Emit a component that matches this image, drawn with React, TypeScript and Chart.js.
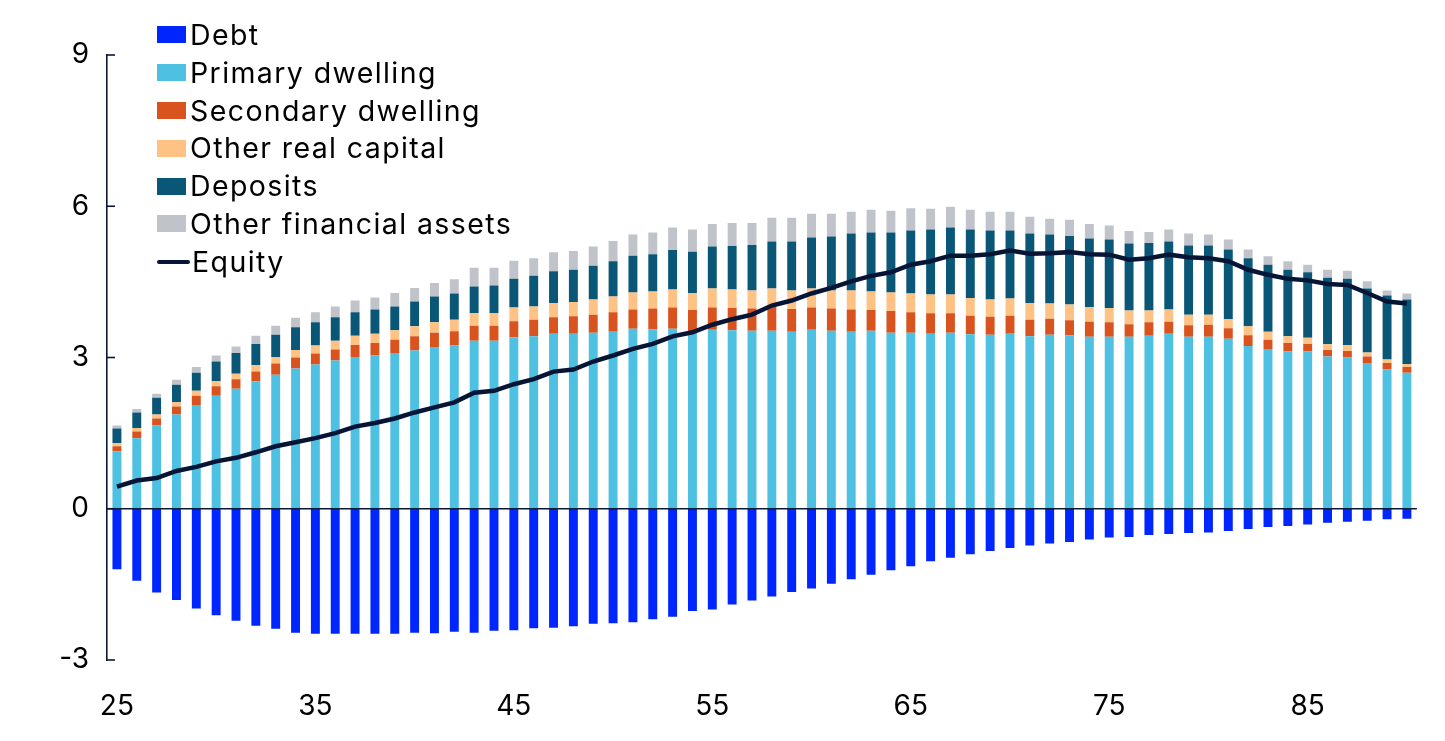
import React, { useEffect, useRef } from "react";
import { Chart, registerables } from "chart.js";

Chart.register(...registerables);

// age groups on the x axis
const ages = [
  25, 26, 27, 28, 29, 30, 31, 32, 33, 34, 35, 36, 37, 38, 39, 40, 41, 42, 43, 44, 45, 46,
  47, 48, 49, 50, 51, 52, 53, 54, 55, 56, 57, 58, 59, 60, 61, 62, 63, 64, 65, 66, 67, 68,
  69, 70, 71, 72, 73, 74, 75, 76, 77, 78, 79, 80, 81, 82, 83, 84, 85, 86, 87, 88, 89, 90,
];
const xTickLabels = ["25", "35", "45", "55", "65", "75", "85"];

const debt = [
  -1.2, -1.43, -1.66, -1.81, -1.98, -2.11, -2.22, -2.32, -2.38, -2.46, -2.48, -2.48, -2.48,
  -2.48, -2.48, -2.46, -2.47, -2.44, -2.46, -2.42, -2.41, -2.37, -2.36, -2.33, -2.28, -2.27,
  -2.25, -2.19, -2.14, -2.03, -2.0, -1.9, -1.82, -1.74, -1.65, -1.58, -1.49, -1.4, -1.31,
  -1.22, -1.14, -1.04, -0.97, -0.9, -0.84, -0.78, -0.73, -0.69, -0.66, -0.61, -0.57, -0.56,
  -0.52, -0.5, -0.48, -0.47, -0.44, -0.4, -0.36, -0.34, -0.31, -0.28, -0.26, -0.24, -0.21,
  -0.2,
];
const primaryDwelling = [
  1.14, 1.4, 1.65, 1.87, 2.06, 2.24, 2.38, 2.53, 2.66, 2.78, 2.86, 2.94, 3.01, 3.04, 3.09,
  3.14, 3.21, 3.24, 3.33, 3.33, 3.4, 3.42, 3.47, 3.47, 3.49, 3.51, 3.57, 3.56, 3.57, 3.49,
  3.55, 3.54, 3.53, 3.53, 3.51, 3.55, 3.53, 3.51, 3.53, 3.49, 3.49, 3.47, 3.49, 3.46, 3.45,
  3.47, 3.42, 3.45, 3.44, 3.41, 3.41, 3.41, 3.43, 3.47, 3.41, 3.41, 3.37, 3.23, 3.17, 3.12,
  3.12, 3.02, 3.0, 2.89, 2.76, 2.7,
];
const secondaryDwelling = [
  0.1, 0.13, 0.14, 0.16, 0.18, 0.19, 0.19, 0.19, 0.22, 0.22, 0.22, 0.22, 0.24, 0.25, 0.26,
  0.28, 0.28, 0.28, 0.3, 0.3, 0.32, 0.33, 0.33, 0.35, 0.36, 0.39, 0.38, 0.41, 0.42, 0.45,
  0.44, 0.44, 0.44, 0.48, 0.45, 0.44, 0.44, 0.44, 0.41, 0.43, 0.41, 0.41, 0.39, 0.37, 0.36,
  0.36, 0.33, 0.32, 0.3, 0.3, 0.29, 0.25, 0.27, 0.24, 0.23, 0.24, 0.21, 0.21, 0.18, 0.17,
  0.15, 0.13, 0.13, 0.13, 0.13, 0.11,
];
const otherRealCapital = [
  0.06, 0.07, 0.08, 0.08, 0.1, 0.1, 0.11, 0.13, 0.13, 0.15, 0.16, 0.17, 0.18, 0.18, 0.19,
  0.2, 0.21, 0.23, 0.25, 0.25, 0.27, 0.26, 0.28, 0.28, 0.3, 0.31, 0.34, 0.34, 0.36, 0.34,
  0.38, 0.37, 0.36, 0.36, 0.37, 0.38, 0.36, 0.38, 0.37, 0.37, 0.37, 0.37, 0.37, 0.35, 0.34,
  0.34, 0.33, 0.3, 0.31, 0.29, 0.28, 0.27, 0.23, 0.24, 0.21, 0.2, 0.18, 0.18, 0.16, 0.13,
  0.12, 0.12, 0.12, 0.08, 0.07, 0.06,
];
const deposits = [
  0.29, 0.31, 0.33, 0.35, 0.36, 0.39, 0.41, 0.42, 0.44, 0.45, 0.46, 0.47, 0.47, 0.48, 0.47,
  0.49, 0.51, 0.52, 0.53, 0.55, 0.57, 0.61, 0.63, 0.64, 0.67, 0.7, 0.73, 0.74, 0.78, 0.82,
  0.83, 0.86, 0.9, 0.93, 0.97, 1.01, 1.07, 1.13, 1.17, 1.19, 1.25, 1.29, 1.33, 1.36, 1.37,
  1.35, 1.38, 1.37, 1.36, 1.36, 1.36, 1.33, 1.34, 1.35, 1.37, 1.37, 1.38, 1.35, 1.33, 1.32,
  1.3, 1.31, 1.31, 1.27, 1.27, 1.28,
];
const otherFinancialAssets = [
  0.06, 0.07, 0.08, 0.1, 0.11, 0.12, 0.13, 0.16, 0.18, 0.19, 0.2, 0.21, 0.23, 0.24, 0.27,
  0.27, 0.27, 0.28, 0.37, 0.35, 0.36, 0.35, 0.38, 0.37, 0.38, 0.4, 0.42, 0.43, 0.45, 0.44,
  0.45, 0.46, 0.44, 0.47, 0.47, 0.47, 0.45, 0.43, 0.45, 0.43, 0.44, 0.41, 0.41, 0.39, 0.37,
  0.37, 0.33, 0.31, 0.32, 0.29, 0.28, 0.25, 0.22, 0.24, 0.24, 0.22, 0.2, 0.17, 0.17, 0.17,
  0.15, 0.16, 0.16, 0.14, 0.1, 0.12,
];
const equity = [
  0.44, 0.56, 0.61, 0.75, 0.83, 0.94, 1.01, 1.12, 1.24, 1.32, 1.4, 1.5, 1.63, 1.7, 1.79,
  1.91, 2.01, 2.11, 2.3, 2.34, 2.47, 2.57, 2.72, 2.76, 2.92, 3.04, 3.17, 3.27, 3.42, 3.5,
  3.65, 3.76, 3.85, 4.03, 4.13, 4.27, 4.38, 4.51, 4.62, 4.69, 4.84, 4.91, 5.02, 5.02, 5.05,
  5.12, 5.06, 5.07, 5.09, 5.05, 5.04, 4.94, 4.97, 5.04, 4.99, 4.97, 4.91, 4.74, 4.64, 4.56,
  4.53, 4.46, 4.44, 4.28, 4.11, 4.07,
];

const INK = "#0b1833";
const FONT = "Inter, 'Noto Sans', sans-serif";

const legendItems = [
  { label: "Debt", color: "#0026ff", line: false },
  { label: "Primary dwelling", color: "#4ec1e3", line: false },
  { label: "Secondary dwelling", color: "#d9531e", line: false },
  { label: "Other real capital", color: "#ffc285", line: false },
  { label: "Deposits", color: "#0a5676", line: false },
  { label: "Other financial assets", color: "#c0c3ca", line: false },
  { label: "Equity", color: "#061536", line: true },
];

// zero line + inward tick marks on the y axis
const axisMarks = {
  id: "axisMarks",
  afterDatasetsDraw(chart: any) {
    const { ctx, chartArea, scales } = chart;
    const y = scales.y;
    ctx.save();
    ctx.strokeStyle = INK;
    ctx.lineWidth = 1.6;
    const y0 = y.getPixelForValue(0);
    ctx.beginPath();
    ctx.moveTo(chartArea.left, y0);
    ctx.lineTo(chartArea.right, y0);
    ctx.stroke();
    y.ticks.forEach((t: any) => {
      const py = y.getPixelForValue(t.value);
      ctx.beginPath();
      ctx.moveTo(chartArea.left, py);
      ctx.lineTo(chartArea.left + 8, py);
      ctx.stroke();
    });
    ctx.restore();
  },
};

const App = () => {
  const chartRef = useRef<HTMLCanvasElement | null>(null);
  const chartInstanceRef = useRef<Chart | null>(null);

  useEffect(() => {
    const ctx = chartRef.current?.getContext("2d");
    if (!ctx) return;
    if (chartInstanceRef.current) chartInstanceRef.current.destroy();

    const bar = (label: string, data: number[], color: string) => ({
      type: "bar" as const,
      label,
      data,
      backgroundColor: color,
      borderWidth: 0,
      stack: "assets",
      order: 1,
      barPercentage: 0.45,
      categoryPercentage: 1,
    });

    chartInstanceRef.current = new Chart(ctx, {
      type: "bar",
      data: {
        labels: ages.map(String),
        datasets: [
          bar("Debt", debt, legendItems[0].color),
          bar("Primary dwelling", primaryDwelling, legendItems[1].color),
          bar("Secondary dwelling", secondaryDwelling, legendItems[2].color),
          bar("Other real capital", otherRealCapital, legendItems[3].color),
          bar("Deposits", deposits, legendItems[4].color),
          bar("Other financial assets", otherFinancialAssets, legendItems[5].color),
          {
            type: "line" as const,
            label: "Equity",
            data: equity,
            borderColor: legendItems[6].color,
            borderWidth: 4.5,
            pointRadius: 0,
            tension: 0,
            stack: "equity",
            order: 0,
          } as any,
        ],
      },
      options: {
        animation: false,
        responsive: true,
        maintainAspectRatio: false,
        layout: { padding: { top: 47, right: 12, left: 0, bottom: 0 } },
        plugins: {
          legend: { display: false },
          tooltip: { enabled: false },
        },
        scales: {
          x: {
            stacked: true,
            grid: { display: false, drawTicks: false },
            border: { display: false },
            afterFit: (scale: any) => {
              scale.height = 73;
            },
            ticks: {
              autoSkip: false,
              maxRotation: 0,
              padding: 30,
              color: "#000",
              font: { family: FONT, size: 28 },
              callback: (_v: any, i: number) =>
                xTickLabels.includes(String(ages[i])) ? String(ages[i]) : "",
            },
          },
          y: {
            stacked: true,
            min: -3,
            max: 9,
            afterFit: (scale: any) => {
              scale.width = 99;
            },
            grid: { display: false, drawTicks: false },
            border: { display: true, color: INK, width: 1.6 },
            ticks: {
              stepSize: 3,
              padding: 18,
              color: "#000",
              font: { family: FONT, size: 28 },
            },
          },
        },
      },
      plugins: [axisMarks],
    });

    return () => {
      if (chartInstanceRef.current) {
        chartInstanceRef.current.destroy();
        chartInstanceRef.current = null;
      }
    };
  }, []);

  return (
    <div style={{ position: "relative", width: 1429, height: 725 }}>
      <canvas ref={chartRef}></canvas>
      <div
        style={{
          position: "absolute",
          left: 149,
          top: 8,
          fontFamily: FONT,
          fontSize: 28.5,
          letterSpacing: "1.4px",
          color: "#000",
          lineHeight: "37.8px",
        }}
      >
        {legendItems.map((item) => (
          <div key={item.label} style={{ display: "flex", alignItems: "center", whiteSpace: "nowrap" }}>
            {item.line ? (
              <span
                style={{ display: "inline-block", width: 33, height: 4, background: item.color, marginRight: 2, borderRadius: 2 }}
              ></span>
            ) : (
              <span
                style={{ display: "inline-block", width: 29, height: 17, background: item.color, marginRight: 4 }}
              ></span>
            )}
            <span>{item.label}</span>
          </div>
        ))}
      </div>
    </div>
  );
};

export default App;
